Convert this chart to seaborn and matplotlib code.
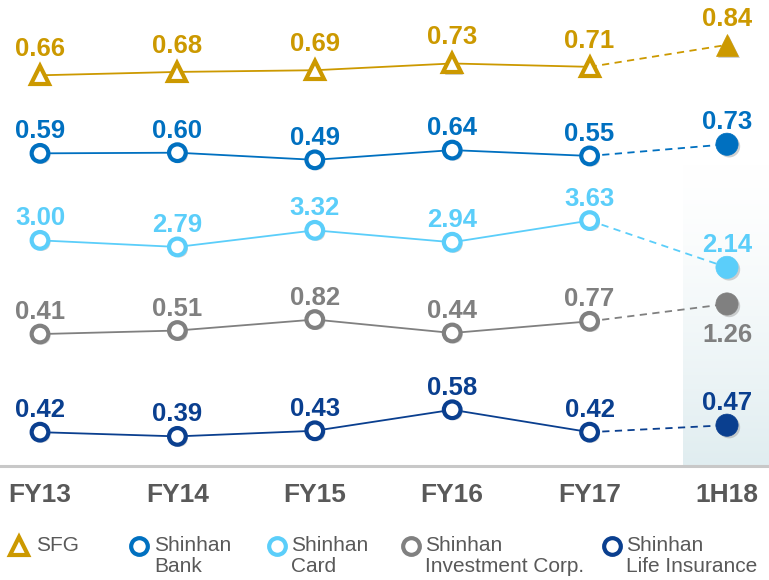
import numpy as np
import pandas as pd
import matplotlib
matplotlib.use("Agg")
import matplotlib.pyplot as plt
import matplotlib.patheffects as pe
from matplotlib.colors import LinearSegmentedColormap
import seaborn as sns

# ---------------- data ----------------
periods = ["FY13", "FY14", "FY15", "FY16", "FY17", "1H18"]
sfg = [0.66, 0.68, 0.69, 0.73, 0.71, 0.84]
bank = [0.59, 0.60, 0.49, 0.64, 0.55, 0.73]
card = [3.00, 2.79, 3.32, 2.94, 3.63, 2.14]
invest = [0.41, 0.51, 0.82, 0.44, 0.77, 1.26]
life = [0.42, 0.39, 0.43, 0.58, 0.42, 0.47]
legend_labels = ["SFG", "Shinhan\nBank", "Shinhan\nCard", "Shinhan\nInvestment Corp.", "Shinhan\nLife Insurance"]

# ---------------- styling ----------------
sns.set_theme(style="white")
plt.rcParams["font.family"] = ["Liberation Sans", "DejaVu Sans"]
fs_val = 18.5
fs_tick = 19
fs_leg = 15

colors = ["#CC9900", "#0070C0", "#5BCEFA", "#808080", "#0A3F8F"]
markers = ["^", "o", "o", "o", "o"]
series = [sfg, bank, card, invest, life]
# each series sits in its own band: (band centre, reference value, pixels per unit)
bands = [(65.5, 0.718, 169), (152.7, 0.60, 65), (241.3, 2.97, 31.4), (323.8, 0.70, 35.4), (427.7, 0.452, 140)]
label_off = [19, 15, 15, 15, 15]
last_below = [False, False, False, True, False]

W, H = 769, 580
fig = plt.figure(figsize=(W / 100, H / 100), dpi=100)
axis_y = 466
ax = fig.add_axes([0, (H - axis_y) / H, 1, axis_y / H])

x0_px, dx_px = 40, 137.4
xmax = 5 + (W - 727) / dx_px
ax.set_xlim(-x0_px / dx_px, xmax)
ax.set_ylim(axis_y, 0)

# shaded gradient for 1H18
grad = np.linspace(0, 1, 256).reshape(-1, 1) ** 1.4
cmap = LinearSegmentedColormap.from_list("g", ["#FFFFFF", "#E0EDF0"])
ax.imshow(grad, cmap=cmap, aspect="auto", extent=[(683 - x0_px) / dx_px, xmax, axis_y, 160], zorder=0)

shadow = [pe.SimplePatchShadow(offset=(1.5, -1.5), shadow_rgbFace="#9a9a9a", alpha=0.45), pe.Normal()]

xs = np.arange(len(periods))
for i, (vals, col, mk, (yc, vr, k)) in enumerate(zip(series, colors, markers, bands)):
    ys = [yc - k * (v - vr) for v in vals]
    df = pd.DataFrame({"x": xs[:5], "y": ys[:5]})
    sns.lineplot(data=df, x="x", y="y", ax=ax, color=col, lw=1.3, zorder=2, legend=False)
    ax.plot(xs[4:], ys[4:], color=col, lw=1.3, ls=(0, (4, 3)), zorder=2)
    ms = 13 if mk == "^" else 12
    ax.plot(xs[:5], ys[:5], ls="none", marker=mk, ms=ms, mfc="white", mec=col, mew=3, zorder=3,
            path_effects=shadow)
    ax.plot(xs[5:], ys[5:], ls="none", marker=mk, ms=16, mfc=col, mec=col, mew=0.5,
            zorder=3, path_effects=shadow)
    for j, (xv, yv, v) in enumerate(zip(xs, ys, vals)):
        if j == 5 and last_below[i]:
            ax.annotate(f"{v:.2f}", (xv, yv), xytext=(0, -19), textcoords="offset pixels",
                        ha="center", va="top", fontsize=fs_val, fontweight="bold", color=col, zorder=4)
        else:
            ax.annotate(f"{v:.2f}", (xv, yv), xytext=(0, label_off[i]), textcoords="offset pixels",
                        ha="center", va="baseline", fontsize=fs_val, fontweight="bold", color=col, zorder=4)

ax.set_xticks(xs)
ax.set_xticklabels(periods, fontsize=fs_tick, fontweight="bold", color="#595959")
ax.tick_params(axis="x", length=0, pad=12)
ax.set_yticks([])
ax.set_xlabel("")
ax.set_ylabel("")
for s in ["top", "left", "right"]:
    ax.spines[s].set_visible(False)
ax.spines["bottom"].set_color("#C8C8C8")
ax.spines["bottom"].set_linewidth(2.2)

# ---------------- legend ----------------
lax = fig.add_axes([0, 0, 1, 1])
lax.set_xlim(0, W)
lax.set_ylim(H, 0)
lax.axis("off")
leg_mx = [19, 139, 277, 411, 612]
leg_tx = [36, 154, 291, 425, 626]
for mx, tx, col, mk, lab in zip(leg_mx, leg_tx, colors, markers, legend_labels):
    lax.plot([mx], [546], ls="none", marker=mk, ms=13 if mk == "^" else 12, mfc="white", mec=col, mew=3)
    lax.text(tx, 536, lab, ha="left", va="top", fontsize=fs_leg, color="#595959", linespacing=1.12)

fig.savefig("out.png", dpi=100)
